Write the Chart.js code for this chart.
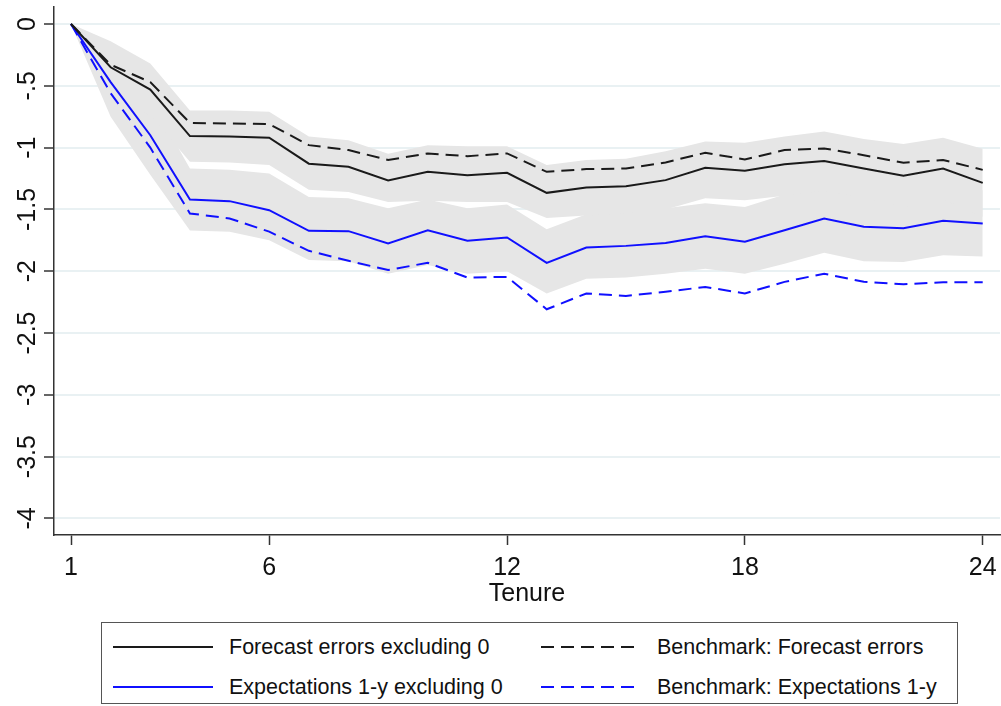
<!DOCTYPE html>
<html>
<head>
<meta charset="utf-8">
<script src="https://cdn.jsdelivr.net/npm/chart.js@4"></script>
<style>
  body { margin: 0; background: #fff; font-family: "Liberation Sans", Arial, sans-serif; }
  #wrap { position: relative; width: 1001px; height: 706px; overflow: hidden; }
  #chart { position: absolute; left: 0; top: 0; }
  #legend { position: absolute; left: 101px; top: 622px; width: 857px; height: 82px; border: 1.5px solid #555; box-sizing: border-box; }
  .item { position: absolute; height: 30px; display: flex; align-items: center; font-size: 21.5px; color: #111; white-space: nowrap; }
  .item svg { margin-right: 16px; }
</style>
</head>
<body>
<div id="wrap">
  <canvas id="chart" width="1001" height="615"></canvas>
  <div id="legend"></div>
</div>
<script>
// Data
const tenure = [1, 2, 3, 4, 5, 6, 7, 8, 9, 10, 11, 12, 13, 14, 15, 16, 17, 18, 19, 20, 21, 22, 23, 24];
const feExcl = [0, -0.35, -0.53, -0.907, -0.91, -0.92, -1.13, -1.155, -1.265, -1.196, -1.223, -1.204, -1.366, -1.323, -1.312, -1.263, -1.163, -1.188, -1.134, -1.109, -1.169, -1.228, -1.169, -1.285];
const feBench = [0, -0.33, -0.47, -0.80, -0.805, -0.81, -0.98, -1.02, -1.10, -1.047, -1.069, -1.047, -1.196, -1.174, -1.169, -1.12, -1.042, -1.096, -1.02, -1.007, -1.061, -1.123, -1.10, -1.18];
const expExcl = [0, -0.47, -0.9, -1.42, -1.433, -1.506, -1.673, -1.676, -1.776, -1.668, -1.754, -1.727, -1.933, -1.808, -1.795, -1.771, -1.717, -1.762, -1.668, -1.574, -1.641, -1.652, -1.592, -1.614];
const expBench = [0, -0.56, -1.0, -1.533, -1.573, -1.68, -1.835, -1.916, -1.99, -1.932, -2.051, -2.046, -2.308, -2.18, -2.20, -2.167, -2.127, -2.18, -2.086, -2.02, -2.086, -2.105, -2.09, -2.09];
// confidence bands
const feHi = [0, -0.14, -0.32, -0.70, -0.70, -0.71, -0.91, -0.94, -1.05, -0.98, -0.99, -0.99, -1.14, -1.10, -1.09, -1.03, -0.95, -0.96, -0.91, -0.87, -0.93, -0.97, -0.92, -1.01];
const feLo = [0, -0.56, -0.74, -1.115, -1.12, -1.14, -1.34, -1.36, -1.44, -1.43, -1.44, -1.44, -1.57, -1.55, -1.53, -1.50, -1.41, -1.425, -1.39, -1.35, -1.41, -1.48, -1.42, -1.56];
const expHi = [0, -0.25, -0.60, -1.17, -1.18, -1.21, -1.40, -1.41, -1.49, -1.42, -1.49, -1.46, -1.66, -1.54, -1.51, -1.49, -1.45, -1.48, -1.38, -1.32, -1.37, -1.385, -1.34, -1.345];
const expLo = [0, -0.75, -1.22, -1.67, -1.68, -1.75, -1.91, -1.92, -2.02, -1.95, -2.02, -2.0, -2.18, -2.06, -2.05, -2.02, -1.98, -2.02, -1.94, -1.85, -1.92, -1.925, -1.87, -1.88];

const xTicks = [1, 6, 12, 18, 24];
const yTicks = [0, -0.5, -1, -1.5, -2, -2.5, -3, -3.5, -4];
const seriesNames = ['Forecast errors excluding 0', 'Benchmark: Forecast errors', 'Expectations 1-y excluding 0', 'Benchmark: Expectations 1-y'];

const BAND = '#e6e6e6';
const pts = arr => tenure.map((t, i) => ({ x: t, y: arr[i] }));
const line = (label, arr, color, dash) => ({
  label, data: pts(arr), borderColor: color, borderWidth: 2, borderDash: dash || [],
  pointRadius: 0, tension: 0, fill: false
});
const band = (arr, fill) => ({
  label: '', data: pts(arr), borderWidth: 0, pointRadius: 0, tension: 0,
  backgroundColor: BAND, fill: fill ? '+1' : false
});

const datasets = [
  line(seriesNames[0], feExcl, '#1a1a1a'),
  line(seriesNames[1], feBench, '#1a1a1a', [13, 7]),
  line(seriesNames[2], expExcl, '#1010ff'),
  line(seriesNames[3], expBench, '#1010ff', [13, 7]),
  band(feHi, true), band(feLo, false),
  band(expHi, true), band(expLo, false)
];

// Stata style labels: -.5, -1.5
const fmt = v => String(v).replace(/^(-?)0\./, '$1.');

const chart = new Chart(document.getElementById('chart'), {
  type: 'line',
  data: { datasets },
  options: {
    responsive: false,
    animation: false,
    layout: { padding: { top: 7, right: 1, left: 0, bottom: 0 } },
    plugins: {
      legend: { display: false },
      tooltip: { enabled: false },
      filler: { drawTime: 'beforeDatasetsDraw' }
    },
    scales: {
      x: {
        type: 'linear', min: 0.571, max: 24.436,
        afterBuildTicks: s => { s.ticks = xTicks.map(v => ({ value: v })); },
        afterFit: s => { s.height = 80; s.paddingLeft = 0; s.paddingRight = 0; },
        border: { color: '#333', width: 1.5 },
        grid: { drawOnChartArea: false, tickLength: 10, tickColor: '#333', tickWidth: 1.5 },
        ticks: { font: { family: 'Liberation Sans', size: 25 }, color: '#111', padding: 8, maxRotation: 0 },
        title: { display: true, text: 'Tenure', font: { family: 'Liberation Sans', size: 25 }, color: '#111', padding: { top: 0, bottom: 6 } }
      },
      y: {
        type: 'linear', min: -4.134, max: 0.1375,
        afterBuildTicks: s => { s.ticks = yTicks.map(v => ({ value: v })); },
        afterFit: s => { s.width = 54; s.paddingTop = 0; s.paddingBottom = 0; },
        border: { color: '#333', width: 1.5 },
        grid: { color: '#e9f1f3', lineWidth: 2, tickLength: 10, tickColor: '#333', tickWidth: 1.5 },
        ticks: {
          font: { family: 'Liberation Sans', size: 25 }, color: '#111',
          minRotation: 90, maxRotation: 90, crossAlign: 'center', padding: -5.5,
          callback: v => fmt(v)
        }
      }
    }
  }
});

// HTML legend, two columns
const legendEl = document.getElementById('legend');
const slots = [[11, 9], [439, 9], [11, 49], [439, 49]];
chart.data.datasets.slice(0, 4).forEach((ds, i) => {
  const dash = ds.borderDash.length ? `stroke-dasharray="${ds.borderDash.join(' ')}"` : '';
  const div = document.createElement('div');
  div.className = 'item';
  div.style.left = slots[i][0] + 'px';
  div.style.top = slots[i][1] + 'px';
  div.innerHTML = `<svg width="100" height="4"><line x1="0" y1="2" x2="100" y2="2" stroke="${ds.borderColor}" stroke-width="2" ${dash}/></svg><span>${ds.label}</span>`;
  legendEl.appendChild(div);
});
</script>
</body>
</html>
